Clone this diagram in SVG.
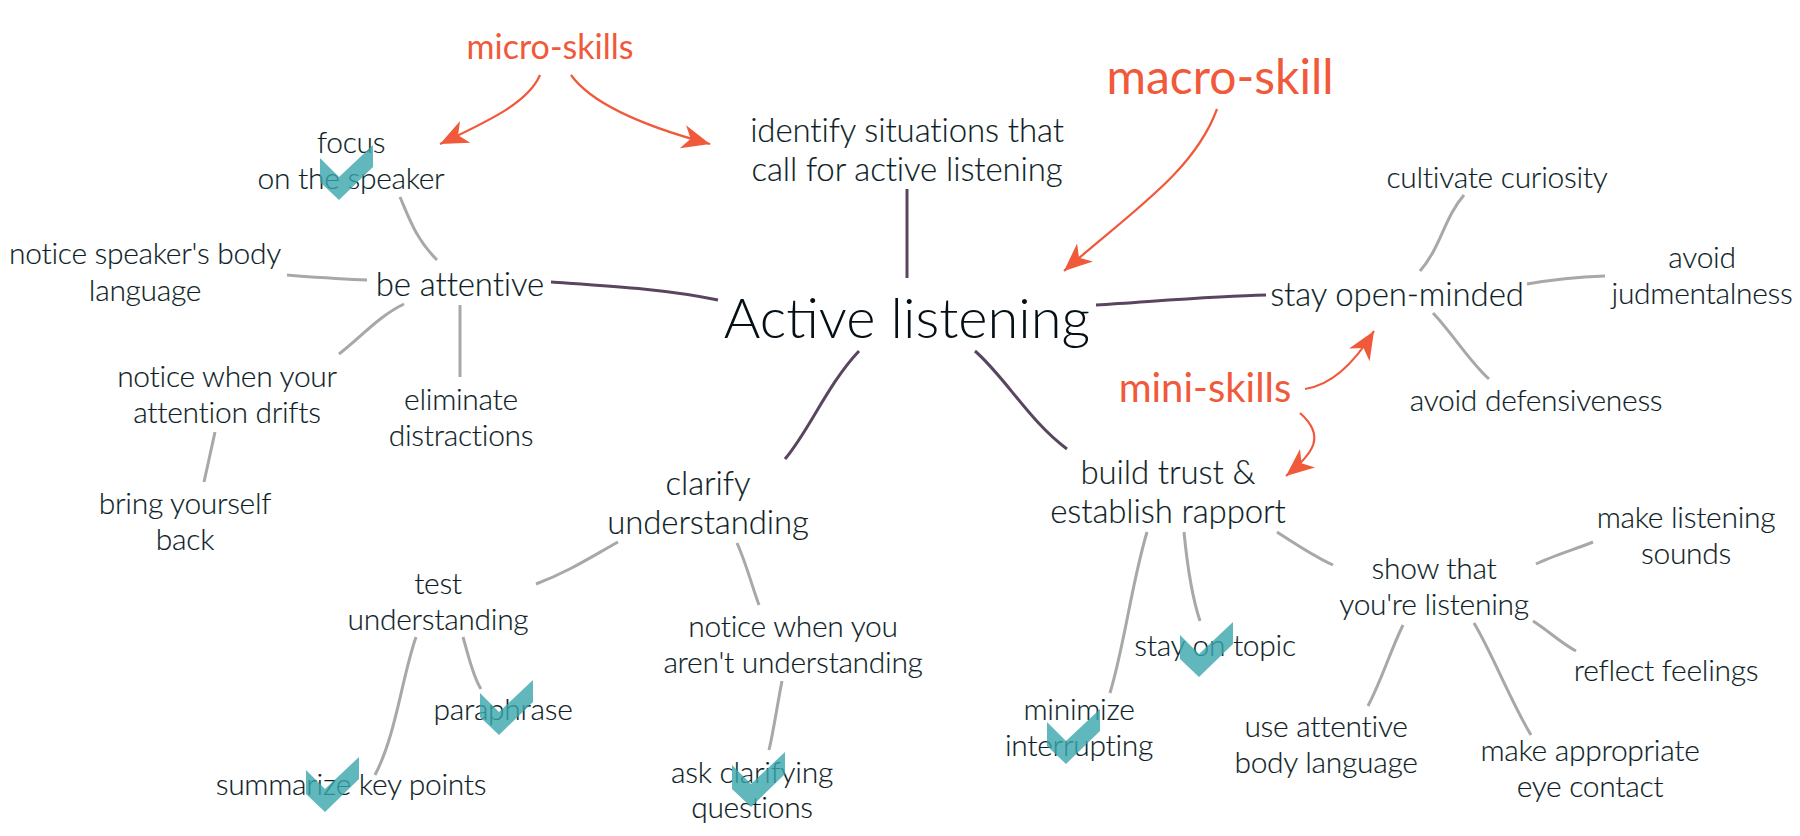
<svg xmlns="http://www.w3.org/2000/svg" xmlns:xlink="http://www.w3.org/1999/xlink" width="1800" height="836" viewBox="0 0 1800 836">
<style>
text{font-family:Lato,"Liberation Sans",sans-serif;font-weight:300;fill:#0e1d27;text-anchor:middle}
.s{font-size:30px;letter-spacing:-.3px;stroke:#0e1d27;stroke-width:.15px}.m{font-size:33px;letter-spacing:-.12px;stroke:#0e1d27;stroke-width:.15px}.c{font-size:56px;fill:#050f16}
.o{fill:#f0593a;font-weight:400}.o1{font-size:34px}.o2{font-size:40px}.o3{font-size:48px}
.g,.p,.a{fill:none;stroke-linecap:butt}
.g{stroke:#a8a8a8;stroke-width:3}.p{stroke:#5a4560;stroke-width:3}.a{stroke:#f0593a;stroke-width:2.2}
.k{fill:#38a6ad;fill-opacity:.8}
</style>
<defs>
<marker id="ah" markerUnits="userSpaceOnUse" markerWidth="32" markerHeight="28" refX="28" refY="12" orient="auto"><path d="M28,12 L0,0 L8,12 L0,24 Z" fill="#f0593a"/></marker>
<path id="tick" d="M0,13 L19,32 L53,0 V22 L19,55 L0,37 Z"/>
</defs>
<g id="connectors">
<path class="p" d="M551,282 C609,286 666,289 718,300"/>
<path class="p" d="M907,189 V278"/>
<path class="p" d="M1096,305 C1159,301 1217,296 1266,295"/>
<path class="p" d="M859,351 C827,385 809,431 785,459"/>
<path class="p" d="M975,351 C1005,377 1030,422 1067,449"/>
<path class="g" d="M400,197 C409,218 416,239 437,260"/>
<path class="g" d="M287,275 C314,277 340,279 367,280"/>
<path class="g" d="M404,304 C379,316 362,336 339,354"/>
<path class="g" d="M460,305 V377"/>
<path class="g" d="M215,432 L204,482"/>
<path class="g" d="M1464,195 C1444,218 1441,247 1420,271"/>
<path class="g" d="M1527,284 C1550,280 1579,277 1605,276"/>
<path class="g" d="M1433,313 C1452,333 1470,362 1489,379"/>
<path class="g" d="M618,542 C591,557 568,572 536,584"/>
<path class="g" d="M737,543 C746,563 752,586 759,605"/>
<path class="g" d="M416,637 C402,677 396,735 375,775"/>
<path class="g" d="M463,637 C468,654 473,677 481,689"/>
<path class="g" d="M782,681 C777,706 774,729 769,750"/>
<path class="g" d="M1147,532 C1131,586 1125,643 1110,693"/>
<path class="g" d="M1184,532 C1187,563 1192,597 1200,621"/>
<path class="g" d="M1277,532 C1297,545 1315,557 1333,565"/>
<path class="g" d="M1536,564 C1552,556 1573,550 1593,542"/>
<path class="g" d="M1533,621 C1550,632 1561,643 1576,651"/>
<path class="g" d="M1403,625 C1389,654 1383,677 1368,706"/>
<path class="g" d="M1474,623 C1493,655 1510,700 1531,735"/>
<path class="a" marker-end="url(#ah)" d="M540,75 C528,103 488,121 440,144"/>
<path class="a" marker-end="url(#ah)" d="M571,75 C591,103 643,126 710,144"/>
<path class="a" marker-end="url(#ah)" d="M1217,109 C1194,172 1131,212 1064,271"/>
<path class="a" marker-end="url(#ah)" d="M1305,389 C1332,385 1355,362 1374,331"/>
<path class="a" marker-end="url(#ah)" d="M1300,413 C1326,436 1314,453 1286,476"/>
</g>
<g id="active-listening"><text class="c" x="907" y="338">Active listening</text></g>
<g id="label-micro-skills"><text class="o o1" x="550" y="59">micro-skills</text></g>
<g id="label-macro-skill"><text class="o o3" x="1220" y="94">macro-skill</text></g>
<g id="label-mini-skills"><text class="o o2" x="1205" y="402">mini-skills</text></g>
<g id="identify"><text class="m" x="907" y="142">identify situations that</text><text class="m" x="907" y="181">call for active listening</text></g>
<g id="be-attentive"><text class="m" x="460" y="296">be attentive</text></g>
<g id="stay-open-minded"><text class="m" x="1397" y="306">stay open-minded</text></g>
<g id="clarify"><text class="m" x="708" y="495">clarify</text><text class="m" x="708" y="534">understanding</text></g>
<g id="build-trust"><text class="m" x="1168" y="484">build trust &amp;</text><text class="m" x="1168" y="523">establish rapport</text></g>
<g id="focus"><text class="s" x="351" y="153">focus</text><text class="s" x="351" y="189">on the speaker</text><use class="k" xlink:href="#tick" href="#tick" x="320" y="145"/></g>
<g id="body-language"><text class="s" x="145" y="264">notice speaker's body</text><text class="s" x="145" y="301">language</text></g>
<g id="attention-drifts"><text class="s" x="227" y="387">notice when your</text><text class="s" x="227" y="423">attention drifts</text></g>
<g id="eliminate"><text class="s" x="461" y="410">eliminate</text><text class="s" x="461" y="446">distractions</text></g>
<g id="bring-back"><text class="s" x="185" y="514">bring yourself</text><text class="s" x="185" y="550">back</text></g>
<g id="cultivate"><text class="s" x="1497" y="188">cultivate curiosity</text></g>
<g id="judmentalness"><text class="s" x="1702" y="268">avoid</text><text class="s" x="1702" y="304">judmentalness</text></g>
<g id="defensiveness"><text class="s" x="1536" y="411">avoid defensiveness</text></g>
<g id="test"><text class="s" x="438" y="594">test</text><text class="s" x="438" y="630">understanding</text></g>
<g id="notice-aren-t"><text class="s" x="793" y="637">notice when you</text><text class="s" x="793" y="673">aren't understanding</text></g>
<g id="paraphrase"><text class="s" x="503" y="720">paraphrase</text><use class="k" xlink:href="#tick" href="#tick" x="480" y="680"/></g>
<g id="summarize"><text class="s" x="351" y="795">summarize key points</text><use class="k" xlink:href="#tick" href="#tick" x="306" y="757"/></g>
<g id="ask"><text class="s" x="752" y="783">ask clarifying</text><text class="s" x="752" y="818">questions</text><use class="k" xlink:href="#tick" href="#tick" x="732" y="752"/></g>
<g id="minimize"><text class="s" x="1079" y="720">minimize</text><text class="s" x="1079" y="756">interrupting</text><use class="k" xlink:href="#tick" href="#tick" x="1047" y="709"/></g>
<g id="stay-on-topic"><text class="s" x="1215" y="656">stay on topic</text><use class="k" xlink:href="#tick" href="#tick" x="1180" y="622"/></g>
<g id="show"><text class="s" x="1434" y="579">show that</text><text class="s" x="1434" y="615">you're listening</text></g>
<g id="listening-sounds"><text class="s" x="1686" y="528">make listening</text><text class="s" x="1686" y="564">sounds</text></g>
<g id="reflect"><text class="s" x="1666" y="681">reflect feelings</text></g>
<g id="attentive-body"><text class="s" x="1326" y="737">use attentive</text><text class="s" x="1326" y="773">body language</text></g>
<g id="eye-contact"><text class="s" x="1590" y="761">make appropriate</text><text class="s" x="1590" y="797">eye contact</text></g>
</svg>
